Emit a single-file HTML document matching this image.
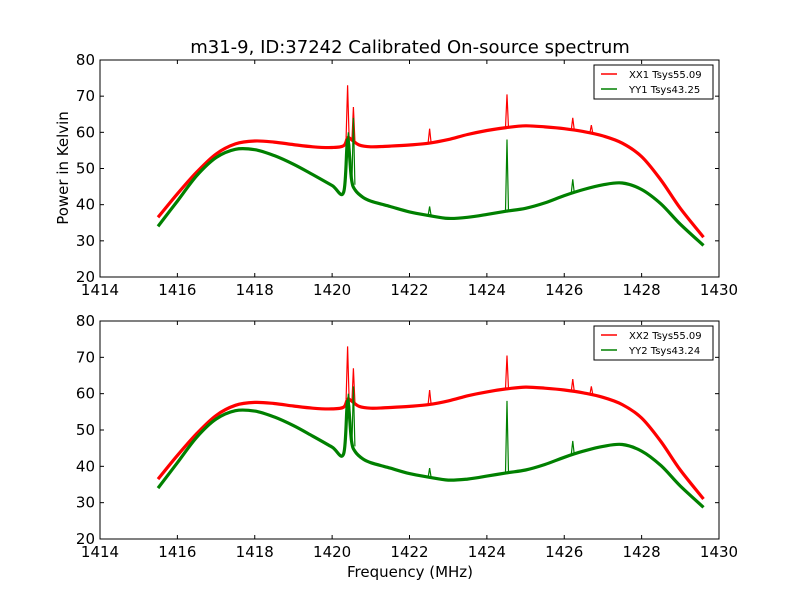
<!DOCTYPE html>
<html><head><meta charset="utf-8">
<style>
html,body{margin:0;padding:0;background:#fff;}
svg{display:block;font-family:"DejaVu Sans","Liberation Sans",sans-serif;}
</style></head>
<body>
<svg id="fig" width="800" height="600" viewBox="0 0 800 600">
<rect width="800" height="600" fill="#fff"/>
<text x="410" y="53" font-size="18" text-anchor="middle">m31-9, ID:37242 Calibrated On-source spectrum</text>
<text x="410" y="577" font-size="15" text-anchor="middle">Frequency (MHz)</text>
<text transform="translate(68,168) rotate(-90)" font-size="15" text-anchor="middle">Power in Kelvin</text>
</svg>
<script>
// Data arrays
const xTicks = [1414,1416,1418,1420,1422,1424,1426,1428,1430];
const yTicks = [20,30,40,50,60,70,80];
const freqXX = [1415.5,1416,1416.5,1417,1417.5,1418,1418.5,1419,1419.5,1420,1420.3,1420.4,1420.5,1420.7,1421,1421.5,1422,1422.5,1423,1423.5,1424,1424.5,1425,1425.5,1426,1426.5,1427,1427.5,1428,1428.5,1429,1429.6];
const xx1 = [36.5,43,49,54,56.8,57.6,57.3,56.6,56,55.8,56.3,58.5,58,56.5,56,56.2,56.5,57,58,59.4,60.5,61.3,61.8,61.5,61,60.2,59,57,53.3,46.8,39,31];
const xx2 = xx1.slice();
const freqYY = [1415.5,1416,1416.5,1417,1417.5,1418,1418.5,1419,1419.5,1420,1420.3,1420.4,1420.5,1420.6,1420.8,1421,1421.5,1422,1422.5,1423,1423.5,1424,1424.5,1425,1425.5,1426,1426.5,1427,1427.5,1428,1428.5,1429,1429.6];
const yy1 = [34,41,48,53,55.3,55.2,53.6,51.2,48.3,45.3,43.5,58,47,44,42,41,39.5,38,37,36.2,36.5,37.3,38.2,39,40.5,42.5,44.2,45.5,46,44.2,40.2,34.6,28.7];
const yy2 = yy1.slice();
const spikeXXf = [1420.4,1420.55,1422.52,1424.52,1426.22,1426.7];
const spikeXXv = [73,67,61,70.5,64,62];
const spikeYYf = [1420.42,1420.55,1422.52,1424.52,1426.22];
const spikeYY1 = [60,64,39.5,58,47];
const spikeYY2 = [60,62,39.5,58,47];
const legendTop = ["XX1 Tsys55.09","YY1 Tsys43.25"];
const legendBot = ["XX2 Tsys55.09","YY2 Tsys43.24"];

const NS="http://www.w3.org/2000/svg";
const svg=document.getElementById('fig');
function mk(tag,attrs,parent){const e=document.createElementNS(NS,tag);for(const k in attrs)e.setAttribute(k,attrs[k]);(parent||svg).appendChild(e);return e;}
function interp(fs,vs,f){for(let i=1;i<fs.length;i++){if(f<=fs[i]){const t=(f-fs[i-1])/(fs[i]-fs[i-1]);return vs[i-1]+t*(vs[i]-vs[i-1]);}}return vs[vs.length-1];}
function smoothPath(pts){let d='M'+pts[0][0].toFixed(1)+','+pts[0][1].toFixed(1);
  for(let i=0;i<pts.length-1;i++){const p0=pts[i-1]||pts[i],p1=pts[i],p2=pts[i+1],p3=pts[i+2]||p2;
    const c1=[p1[0]+(p2[0]-p0[0])/6,p1[1]+(p2[1]-p0[1])/6],c2=[p2[0]-(p3[0]-p1[0])/6,p2[1]-(p3[1]-p1[1])/6];
    d+=' C'+c1[0].toFixed(1)+','+c1[1].toFixed(1)+' '+c2[0].toFixed(1)+','+c2[1].toFixed(1)+' '+p2[0].toFixed(1)+','+p2[1].toFixed(1);}
  return d;}

function panel(T,B,fx1,v1,fx2,v2,sf1,sv1,sf2,sv2,legend,name){
  const L=100,R=719;
  const x=v=>L+(v-1414)/(1430-1414)*(R-L);
  const y=v=>B-(v-20)/(80-20)*(B-T);
  const g=mk('g',{});
  
  
  const series=[[fx1,v1,sf1,sv1,'#ff0000','xx-series'],[fx2,v2,sf2,sv2,'#008000','yy-series']];
  for(const [fx,fy,sf,sv,c,n] of series){
    const p=mk('path',{d:smoothPath(fx.map((f,i)=>[x(f),y(fy[i])])),fill:'none',stroke:c,'stroke-width':3.2,'stroke-linejoin':'round'},g);
    
    
    sf.forEach((f,i)=>{
      const base=interp(fx,fy,f);
      const s=mk('path',{d:'M'+(x(f)-1.5)+','+y(base)+' L'+x(f)+','+y(sv[i])+' L'+(x(f)+1.5)+','+y(base),fill:'none',stroke:c,'stroke-width':1.2},g);
      
      
    });
  }
  const fr=mk('rect',{x:L,y:T,width:R-L,height:B-T,fill:'none',stroke:'#000','stroke-width':1},g);
  
  
  for(const t of xTicks){
    const X=x(t);
    mk('line',{x1:X,y1:B,x2:X,y2:B-4,stroke:'#000'},g);
    mk('line',{x1:X,y1:T,x2:X,y2:T+4,stroke:'#000'},g);
    const tx=mk('text',{x:X,y:B+18,'font-size':15,'text-anchor':'middle'},g);
    tx.textContent=t;
    
    
  }
  for(const t of yTicks){
    const Y=y(t);
    mk('line',{x1:L,y1:Y,x2:L+4,y2:Y,stroke:'#000'},g);
    mk('line',{x1:R,y1:Y,x2:R-4,y2:Y,stroke:'#000'},g);
    const tx=mk('text',{x:L-5,y:Y+5,'font-size':15,'text-anchor':'end'},g);
    tx.textContent=t;
    
    
  }
  const lg=mk('g',{},g);
  
  
  mk('rect',{x:594,y:T+5,width:119,height:34,fill:'#fff',stroke:'#000','stroke-width':1},lg);
  legend.forEach((s,i)=>{
    const yy=T+14+i*15;
    mk('line',{x1:601,y1:yy,x2:617,y2:yy,stroke:i?'#008000':'#ff0000','stroke-width':1.5},lg);
    const t=mk('text',{x:629,y:yy+4,'font-size':10},lg);
    t.textContent=s;
    
    
  });
}
panel(60,277,freqXX,xx1,freqYY,yy1,spikeXXf,spikeXXv,spikeYYf,spikeYY1,legendTop,'top-panel');
panel(321,539,freqXX,xx2,freqYY,yy2,spikeXXf,spikeXXv,spikeYYf,spikeYY2,legendBot,'bottom-panel');
</script>
</body></html>
